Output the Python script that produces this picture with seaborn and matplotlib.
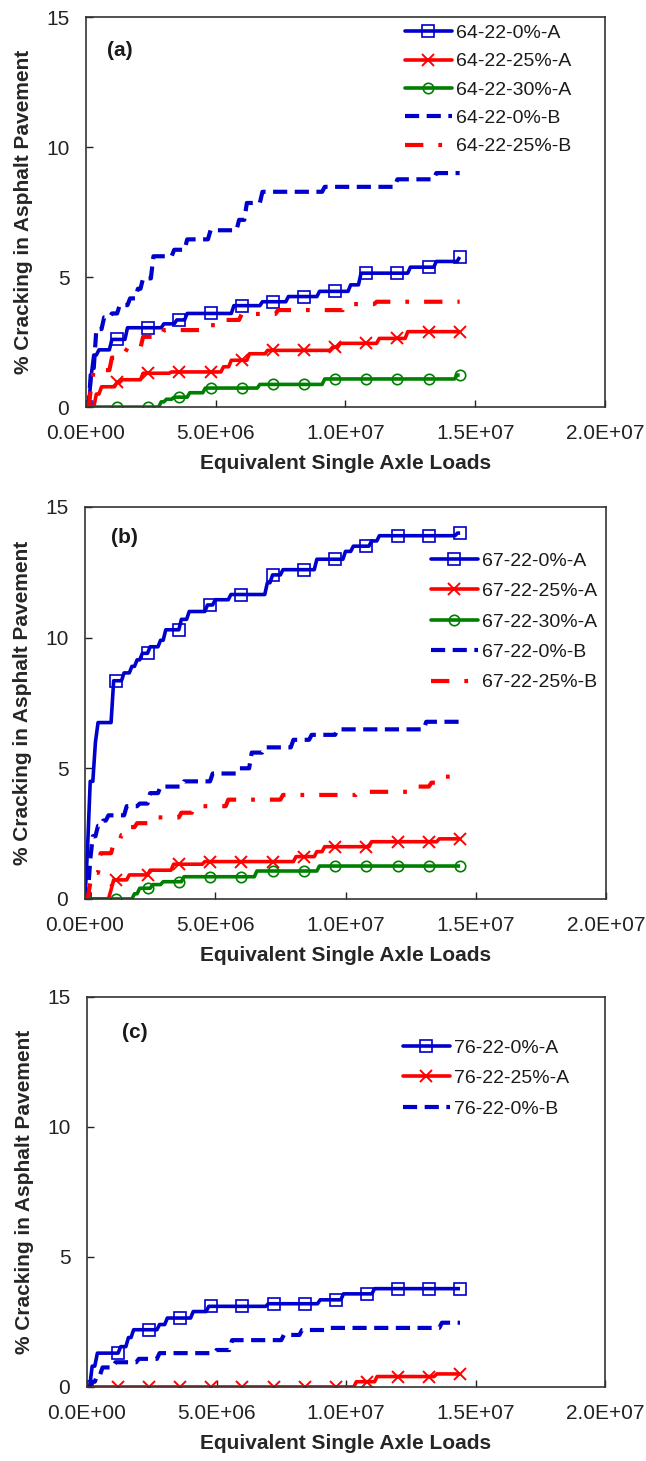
import numpy as np
import pandas as pd
import matplotlib
matplotlib.use("Agg")
import matplotlib.pyplot as plt
from matplotlib.lines import Line2D
import seaborn as sns

# ---------------------------------------------------------------------------
# Cracking histories, stored as step breakpoints:
#   *_x : cumulative ESALs (millions) at which the cracking level changes
#   *_y : cracking (%) from that point onward
# ---------------------------------------------------------------------------

# (a) PG 64-22
a_0A_x = [0, 0.15, 0.3, 0.45, 1.0, 1.55, 2.95, 3.5, 3.85, 5.65, 6.8, 7.8, 9.0, 10.2, 10.6, 12.45, 13.5, 14.35]
a_0A_y = [0, 1.2, 2.0, 2.2, 2.6, 3.05, 3.2, 3.35, 3.6, 3.9, 4.05, 4.25, 4.45, 4.7, 5.15, 5.38, 5.6, 5.77]
a_25A_x = [0, 0.35, 0.55, 1.15, 1.35, 2.15, 3.3, 5.3, 5.55, 6.3, 7.0, 9.45, 9.8, 11.3, 12.35]
a_25A_y = [0, 0.5, 0.78, 0.95, 1.05, 1.3, 1.35, 1.55, 1.8, 2.05, 2.18, 2.3, 2.45, 2.64, 2.9]
a_30A_x = [0, 2.9, 3.1, 3.4, 4.0, 4.6, 6.7, 9.2, 14.25]
a_30A_y = [0, 0.2, 0.3, 0.38, 0.55, 0.73, 0.87, 1.08, 1.23]
a_0B_x = [0, 0.15, 0.35, 0.7, 1.0, 1.3, 1.7, 1.95, 2.2, 2.6, 3.4, 3.9, 4.8, 5.85, 6.2, 6.8, 9.2, 11.95, 13.5]
a_0B_y = [0, 1.5, 3.0, 3.45, 3.6, 3.92, 4.18, 4.55, 4.95, 5.8, 6.05, 6.45, 6.8, 7.2, 7.85, 8.28, 8.47, 8.76, 9.0]
a_25B_x = [0, 0.15, 0.3, 1.0, 1.2, 1.55, 2.2, 3.0, 4.5, 5.3, 6.0, 7.4, 10.0, 11.2]
a_25B_y = [0, 0.8, 1.42, 1.9, 2.1, 2.27, 2.7, 2.96, 3.15, 3.35, 3.58, 3.73, 3.96, 4.05]

# (b) PG 67-22
b_0A_x = [0, 0.1, 0.2, 0.35, 0.5, 1.05, 1.45, 1.8, 1.95, 2.2, 2.5, 2.85, 3.1, 3.7, 3.95, 4.7, 5.0, 5.6,
          7.0, 7.2, 7.55, 8.9, 10.0, 10.3, 10.95, 11.3, 14.3]
b_0A_y = [0, 2.0, 4.5, 6.0, 6.75, 8.35, 8.65, 8.9, 9.15, 9.4, 9.65, 9.9, 10.3, 10.7, 11.0, 11.25, 11.45, 11.65,
          12.1, 12.4, 12.6, 13.0, 13.3, 13.5, 13.7, 13.9, 14.0]
b_25A_x = [0, 0.95, 1.1, 1.7, 2.5, 3.4, 4.6, 8.1, 8.9, 9.2, 10.95, 13.6]
b_25A_y = [0, 0.35, 0.73, 0.92, 1.1, 1.33, 1.43, 1.62, 1.81, 2.0, 2.19, 2.3]
b_30A_x = [0, 1.85, 2.05, 2.55, 3.0, 3.8, 6.6, 9.0]
b_30A_y = [0, 0.2, 0.41, 0.55, 0.66, 0.85, 1.07, 1.26]
b_0B_x = [0, 0.15, 0.3, 0.5, 0.65, 0.9, 1.6, 2.1, 2.5, 2.85, 3.75, 4.9, 5.9, 6.4, 6.9, 8.0, 8.7, 9.65, 13.05]
b_0B_y = [0, 1.5, 2.4, 2.8, 3.0, 3.2, 3.55, 3.65, 4.05, 4.3, 4.5, 4.8, 5.0, 5.6, 5.8, 6.09, 6.28, 6.49, 6.78]
b_25B_x = [0, 0.2, 0.35, 0.6, 1.1, 1.35, 1.6, 2.0, 2.6, 3.7, 4.2, 5.5, 7.55, 10.5, 12.8, 13.3, 13.8]
b_25B_y = [0, 0.6, 1.0, 1.75, 2.13, 2.45, 2.75, 2.9, 3.12, 3.3, 3.55, 3.8, 3.98, 4.1, 4.3, 4.45, 4.68]

# (c) PG 76-22
c_0A_x = [0, 0.15, 0.35, 1.3, 1.55, 1.75, 2.8, 3.05, 4.1, 4.7, 7.0, 9.0, 9.9, 11.1]
c_0A_y = [0, 0.8, 1.3, 1.55, 1.9, 2.2, 2.4, 2.65, 2.9, 3.1, 3.2, 3.35, 3.58, 3.78]
c_25A_x = [0, 10.35, 11.15, 13.5]
c_25A_y = [0, 0.2, 0.4, 0.5]
c_0B_x = [0, 0.2, 0.4, 0.6, 1.1, 2.0, 2.75, 4.95, 5.6, 7.6, 8.3, 9.3, 13.7]
c_0B_y = [0, 0.2, 0.45, 0.75, 0.95, 1.08, 1.3, 1.42, 1.8, 2.0, 2.19, 2.27, 2.47]

panel_tags = ["(a)", "(b)", "(c)"]
x_tick_values = [0, 5e6, 1e7, 1.5e7, 2e7]
x_tick_labels = ["0.0E+00", "5.0E+06", "1.0E+07", "1.5E+07", "2.0E+07"]
y_tick_values = [0, 5, 10, 15]

# Monthly readings (0.1 million ESALs per month), one marker per year
N_MONTHS = 144
ESAL_PER_MONTH = 0.1e6
MONTHS_PER_MARK = 12

BLUE, RED, GREEN = "#0000CC", "#FF0000", "#008000"
STYLES = {
    "0%-A": dict(color=BLUE, lw=2.6, ls="-", marker="s", ms=8.5, mfc="none", mew=1.2),
    "25%-A": dict(color=RED, lw=2.6, ls="-", marker="x", ms=8.5, mew=1.4),
    "30%-A": dict(color=GREEN, lw=2.6, ls="-", marker="o", ms=7.5, mfc="none", mew=1.2),
    "0%-B": dict(color=BLUE, lw=3.0, ls=(0, (3.4, 1.8))),
    "25%-B": dict(color=RED, lw=3.0, ls=(0, (4.4, 3.6, 0.9, 3.6))),
}

panels = [
    ("64-22", [("0%-A", a_0A_x, a_0A_y), ("25%-A", a_25A_x, a_25A_y), ("30%-A", a_30A_x, a_30A_y),
               ("0%-B", a_0B_x, a_0B_y), ("25%-B", a_25B_x, a_25B_y)]),
    ("67-22", [("0%-A", b_0A_x, b_0A_y), ("25%-A", b_25A_x, b_25A_y), ("30%-A", b_30A_x, b_30A_y),
               ("0%-B", b_0B_x, b_0B_y), ("25%-B", b_25B_x, b_25B_y)]),
    ("76-22", [("0%-A", c_0A_x, c_0A_y), ("25%-A", c_25A_x, c_25A_y), ("0%-B", c_0B_x, c_0B_y)]),
]


def monthly(bx, by):
    """Hold each breakpoint level until the next one, sampled monthly."""
    esal = np.arange(N_MONTHS + 1) * ESAL_PER_MONTH
    brk = np.asarray(bx) * 1e6
    idx = np.searchsorted(brk, esal + 1.0, side="right") - 1
    return pd.DataFrame({"esal": esal, "crack": np.asarray(by)[idx]})


sns.set_theme(style="white")
plt.rcParams["font.family"] = ["Liberation Sans", "DejaVu Sans"]
plt.rcParams["text.color"] = "#1a1a1a"

fig = plt.figure(figsize=(6.46, 14.61), dpi=100)
# axes rectangles (left, bottom, width, height) in figure fractions
rects = [
    (0.1331, 0.7214, 0.8034, 0.2669),
    (0.1316, 0.3847, 0.8065, 0.2683),
    (0.1347, 0.0507, 0.8019, 0.2669),
]
tag_pos = [(0.066, 0.915), (0.075, 0.923), (0.093, 0.908)]
legend_anchor = [(0.615, 0.981), (0.664, 0.885), (0.61, 0.892)]
legend_spacing = [0.55, 0.66, 0.66]

for k, (grade, series) in enumerate(panels):
    ax = fig.add_axes(rects[k])
    handles, labels = [], []
    for key, bx, by in series:
        st = STYLES[key]
        df = monthly(bx, by)
        sns.lineplot(data=df, x="esal", y="crack", ax=ax, estimator=None, sort=False,
                     color=st["color"], linewidth=st["lw"], linestyle=st["ls"],
                     solid_capstyle="butt", dash_capstyle="butt")
        if "marker" in st:
            marks = df.iloc[::MONTHS_PER_MARK]
            sns.lineplot(data=marks, x="esal", y="crack", ax=ax, estimator=None, sort=False,
                         color=st["color"], linestyle="none", marker=st["marker"],
                         markersize=st["ms"], markerfacecolor=st.get("mfc", st["color"]),
                         markeredgecolor=st["color"], markeredgewidth=st["mew"])
        handles.append(Line2D([], [], color=st["color"], lw=st["lw"], ls=st["ls"],
                              marker=st.get("marker"), ms=st.get("ms", 0),
                              mfc=st.get("mfc", st["color"]), mec=st["color"],
                              mew=st.get("mew", 0)))
        labels.append(f"{grade}-{key}")

    ax.set_xlim(0, 2e7)
    ax.set_ylim(0, 15)
    ax.set_xticks(x_tick_values)
    ax.set_xticklabels(x_tick_labels)
    ax.set_yticks(y_tick_values)
    ax.tick_params(axis="both", direction="in", length=5, width=1, colors="#222222",
                   labelsize=15, bottom=True, left=True)
    ax.tick_params(axis="y", pad=12)
    ax.tick_params(axis="x", pad=12)
    for sp in ax.spines.values():
        sp.set_color("#333333")
        sp.set_linewidth(1.2)
    ax.set_xlabel("Equivalent Single Axle Loads", fontsize=15, fontweight="bold", labelpad=8)
    ax.set_ylabel("% Cracking in Asphalt Pavement", fontsize=15, fontweight="bold", labelpad=9)
    ax.text(tag_pos[k][0], tag_pos[k][1], panel_tags[k], transform=ax.transAxes,
            fontsize=15, fontweight="bold", ha="center", va="center")
    ax.legend(handles, labels, loc="upper left", bbox_to_anchor=legend_anchor[k],
              frameon=False, borderaxespad=0, borderpad=0, handlelength=2.4,
              handletextpad=0.2, labelspacing=legend_spacing[k], fontsize=14, numpoints=1)

fig.savefig("out.png", dpi=100)
